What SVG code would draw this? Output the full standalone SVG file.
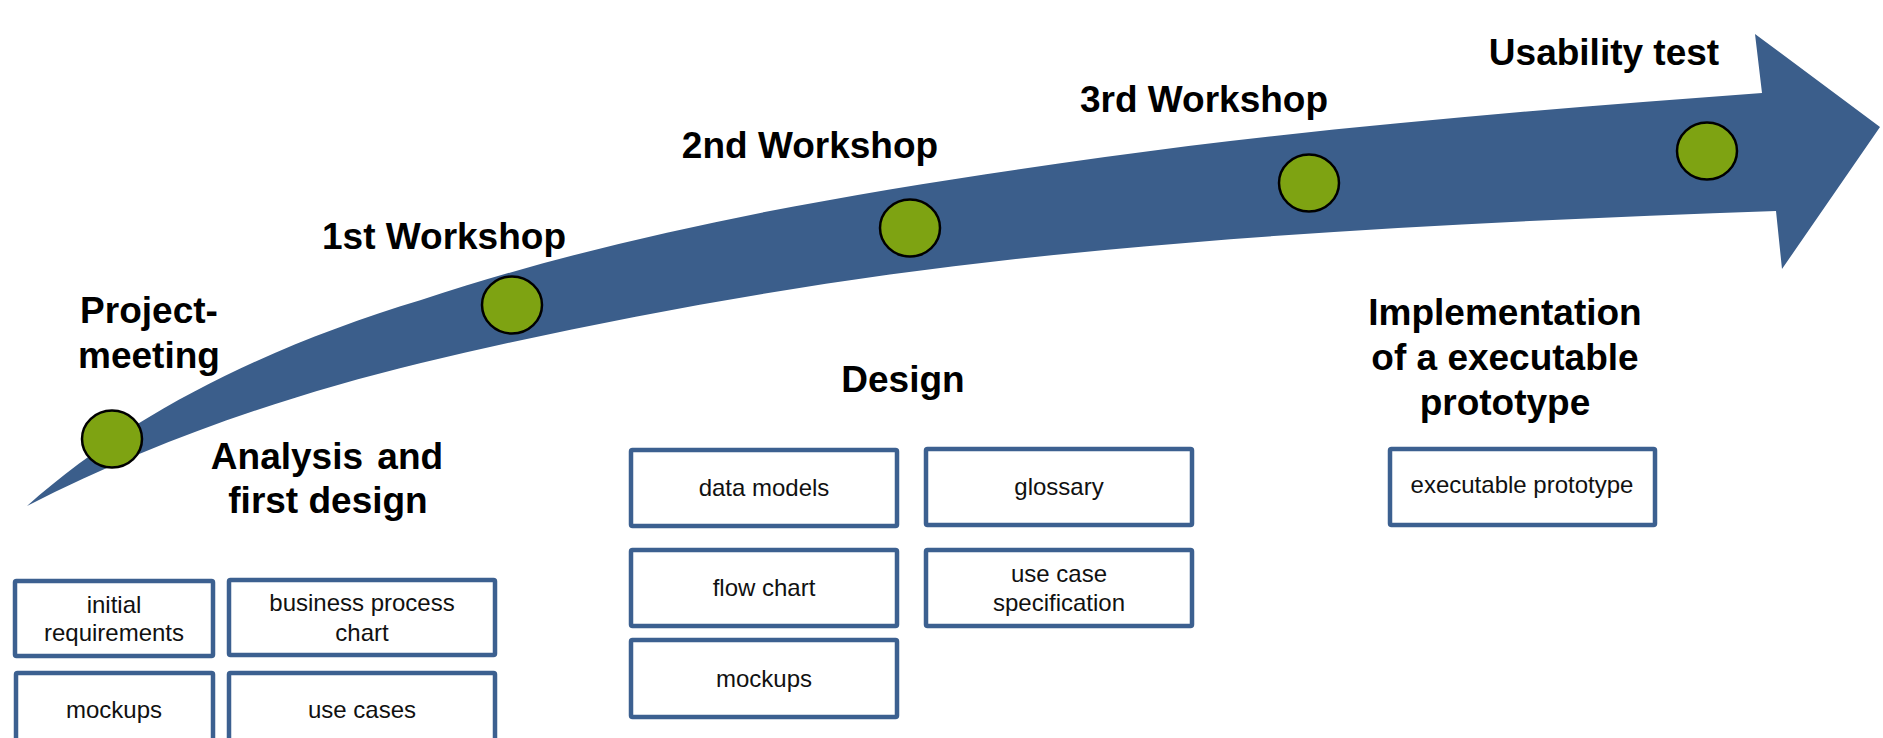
<svg xmlns="http://www.w3.org/2000/svg" width="1883" height="738" viewBox="0 0 1883 738">
<style>
.h{font-family:"Liberation Sans",Arial,sans-serif;font-weight:bold;font-size:37px;fill:#000;text-anchor:middle}
.t{font-family:"Liberation Sans",Arial,sans-serif;font-size:24px;fill:#111;text-anchor:middle}
.box{fill:#fff;stroke:#3C6090;stroke-width:4.5}
.ms{fill:#7EA312;stroke:#000;stroke-width:2.5}
</style>
<rect width="1883" height="738" fill="#fff"/>
<g id="timeline-arrow">
<path fill="#3B5E8B" d="M27,506 C135,410 275,344 421,300 C642,227 874,189 1105,157 C1323,127 1543,109 1762,93 L1755,34 L1880,127 L1782,269 L1776,211 C1552,219 1328,229 1105,250 C875,271 646,309 421,363 C285,396 152,442 27,506 Z"/>
</g>
<g id="connectors"></g>
<g id="m-project-meeting">
<ellipse class="ms" cx="112" cy="439" rx="30" ry="28.5"/>
<text class="h" x="149" y="323">Project-</text>
<text class="h" x="149" y="368">meeting</text>
</g>
<g id="m-1st-workshop">
<ellipse class="ms" cx="512" cy="305" rx="30" ry="28.5"/>
<text class="h" x="444" y="249">1st Workshop</text>
</g>
<g id="m-2nd-workshop">
<ellipse class="ms" cx="910" cy="228" rx="30" ry="28.5"/>
<text class="h" x="810" y="158">2nd Workshop</text>
</g>
<g id="m-3rd-workshop">
<ellipse class="ms" cx="1309" cy="183" rx="30" ry="28.5"/>
<text class="h" x="1204" y="112">3rd Workshop</text>
</g>
<g id="m-usability-test">
<ellipse class="ms" cx="1707" cy="151" rx="30" ry="28.5"/>
<text class="h" x="1604" y="65">Usability test</text>
</g>
<g id="phase-analysis">
<text class="h" x="327" y="469">Analysis <tspan dx="4">and</tspan></text>
<text class="h" x="328" y="513">first design</text>
</g>
<g id="phase-design">
<text class="h" x="903" y="392">Design</text>
</g>
<g id="phase-implementation">
<text class="h" x="1505" y="325">Implementation</text>
<text class="h" x="1505" y="370">of a executable</text>
<text class="h" x="1505" y="415">prototype</text>
</g>
<g id="a-initial-requirements">
<rect class="box" x="15" y="581" width="198" height="75" rx="1.5"/>
<text class="t" x="114" y="613">initial</text>
<text class="t" x="114" y="641">requirements</text>
</g>
<g id="a-business-process-chart">
<rect class="box" x="229" y="580" width="266" height="75" rx="1.5"/>
<text class="t" x="362" y="611">business process</text>
<text class="t" x="362" y="641">chart</text>
</g>
<g id="a-mockups">
<rect class="box" x="16" y="673" width="197" height="80" rx="1.5"/>
<text class="t" x="114" y="718">mockups</text>
</g>
<g id="a-use-cases">
<rect class="box" x="229" y="673" width="266" height="80" rx="1.5"/>
<text class="t" x="362" y="718">use cases</text>
</g>
<g id="d-data-models">
<rect class="box" x="631" y="450" width="266" height="76" rx="1.5"/>
<text class="t" x="764" y="496">data models</text>
</g>
<g id="d-glossary">
<rect class="box" x="926" y="449" width="266" height="76" rx="1.5"/>
<text class="t" x="1059" y="495">glossary</text>
</g>
<g id="d-flow-chart">
<rect class="box" x="631" y="550" width="266" height="76" rx="1.5"/>
<text class="t" x="764" y="596">flow chart</text>
</g>
<g id="d-use-case-specification">
<rect class="box" x="926" y="550" width="266" height="76" rx="1.5"/>
<text class="t" x="1059" y="582">use case</text>
<text class="t" x="1059" y="611">specification</text>
</g>
<g id="d-mockups">
<rect class="box" x="631" y="640" width="266" height="77" rx="1.5"/>
<text class="t" x="764" y="687">mockups</text>
</g>
<g id="i-executable-prototype">
<rect class="box" x="1390" y="449" width="265" height="76" rx="1.5"/>
<text class="t" x="1522" y="493">executable prototype</text>
</g>
</svg>
